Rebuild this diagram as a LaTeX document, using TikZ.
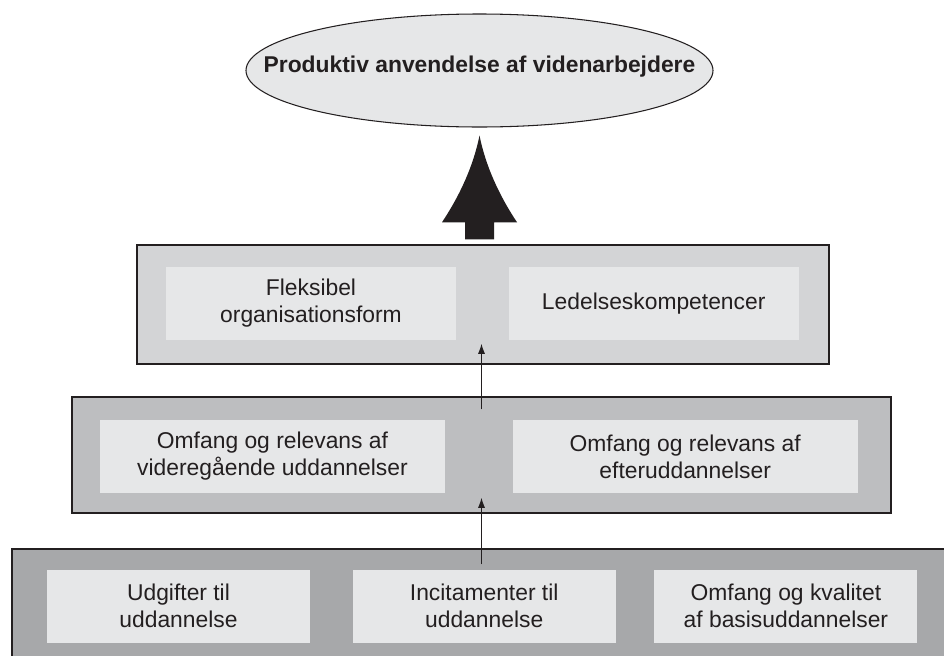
\documentclass[tikz,border=0pt]{standalone}
\usepackage{fontspec}
\setmainfont{Liberation Sans}
\usetikzlibrary{positioning,shapes.geometric,arrows.meta}
\definecolor{inkgray}{HTML}{231F20}
\definecolor{paleface}{HTML}{E6E7E8}
\definecolor{layerone}{HTML}{D3D4D6}
\definecolor{layertwo}{HTML}{BDBEC0}
\definecolor{layerthree}{HTML}{A7A8AA}
\begin{document}
\begin{tikzpicture}[node distance = 0.8 cm,
                    font = \fontsize{13}{15.4}\selectfont,
                    text = inkgray]
      \useasboundingbox (0,0) rectangle (18.88,-13.1);
      \clip (0,0) rectangle (18.88,-13.1);
      \tikzset{LayerStyle/.style = {draw  = inkgray,
          line width = 0.85pt,
          inner sep  = 0pt},
        FactorStyle/.style = {fill = paleface,
          minimum height = 1.46cm,
          inner sep      = 0pt,
          align          = center},
        GoalStyle/.style = {ellipse, draw = inkgray,
          fill       = paleface,
          line width = 0.6pt,
          minimum width  = 9.34cm,
          minimum height = 2.26cm},
        RiseStyle/.style = {draw = inkgray, line width = 0.6pt,
          -{Latex[length=2mm,width=1.4mm]}},
        SpireStyle/.style = {fill = inkgray}}
      \node[LayerStyle, fill=layerthree, minimum width=19.36cm, minimum height=2.82cm] (L3) at (9.92,-12.39) {};
      \node[FactorStyle, minimum width=5.26cm] (Udg) at (3.57,-12.12) {Udgifter til\\uddannelse};
      \node[FactorStyle, minimum width=5.26cm, right = 0.84 cm of Udg] (Inc) {Incitamenter til\\uddannelse};
      \node[FactorStyle, minimum width=5.26cm, right = 0.76 cm of Inc] (Bas) {Omfang og kvalitet\\af basisuddannelser};
      \node[LayerStyle, fill=layertwo, minimum width=16.38cm, minimum height=2.32cm] (L2) at (9.63,-9.1) {};
      \node[FactorStyle, minimum width=6.9cm] (Vid) at (5.45,-9.13) {Omfang og relevans af\\videregående uddannelser};
      \node[FactorStyle, minimum width=6.9cm, right = 1.34 cm of Vid] (Eft) {Omfang og relevans af\\efteruddannelser};
      \node[LayerStyle, fill=layerone, minimum width=13.84cm, minimum height=2.38cm] (L1) at (9.66,-6.09) {};
      \node[FactorStyle, minimum width=5.8cm] (Fle) at (6.22,-6.07) {Fleksibel\\organisationsform};
      \node[FactorStyle, minimum width=5.8cm, right = 1.04 cm of Fle] (Led) {Ledelseskompetencer};
      \node[GoalStyle, label={[yshift=0.07cm, font=\fontsize{13}{15.4}\selectfont\bfseries]center:Produktiv anvendelse af videnarbejdere}] (Goal) at (9.59,-1.41) {};
      \draw[RiseStyle] ([yshift=-0.32cm]L2.south |- L3.north) -- ([yshift=0.32cm]L2.south);
      \draw[RiseStyle] ([yshift=-0.26cm]L2.north) -- ([yshift=0.42cm]L2.north |- L1.south);
      \coordinate (Foot) at (Goal.south |- L1.north);
      \fill[SpireStyle] ([xshift=-0.29cm,yshift=0.1cm]Foot) -- ++(0,0.34) -- ++(-0.46,0)
        .. controls +(0.36,0.54) and +(-0.12,-0.6) .. ([yshift=-0.16cm]Goal.south)
        .. controls +(0.12,-0.6) and +(-0.36,0.54) .. ([xshift=0.75cm,yshift=0.44cm]Foot)
        -- ++(-0.46,0) -- ++(0,-0.34) -- cycle;
    \end{tikzpicture}
\end{document}
